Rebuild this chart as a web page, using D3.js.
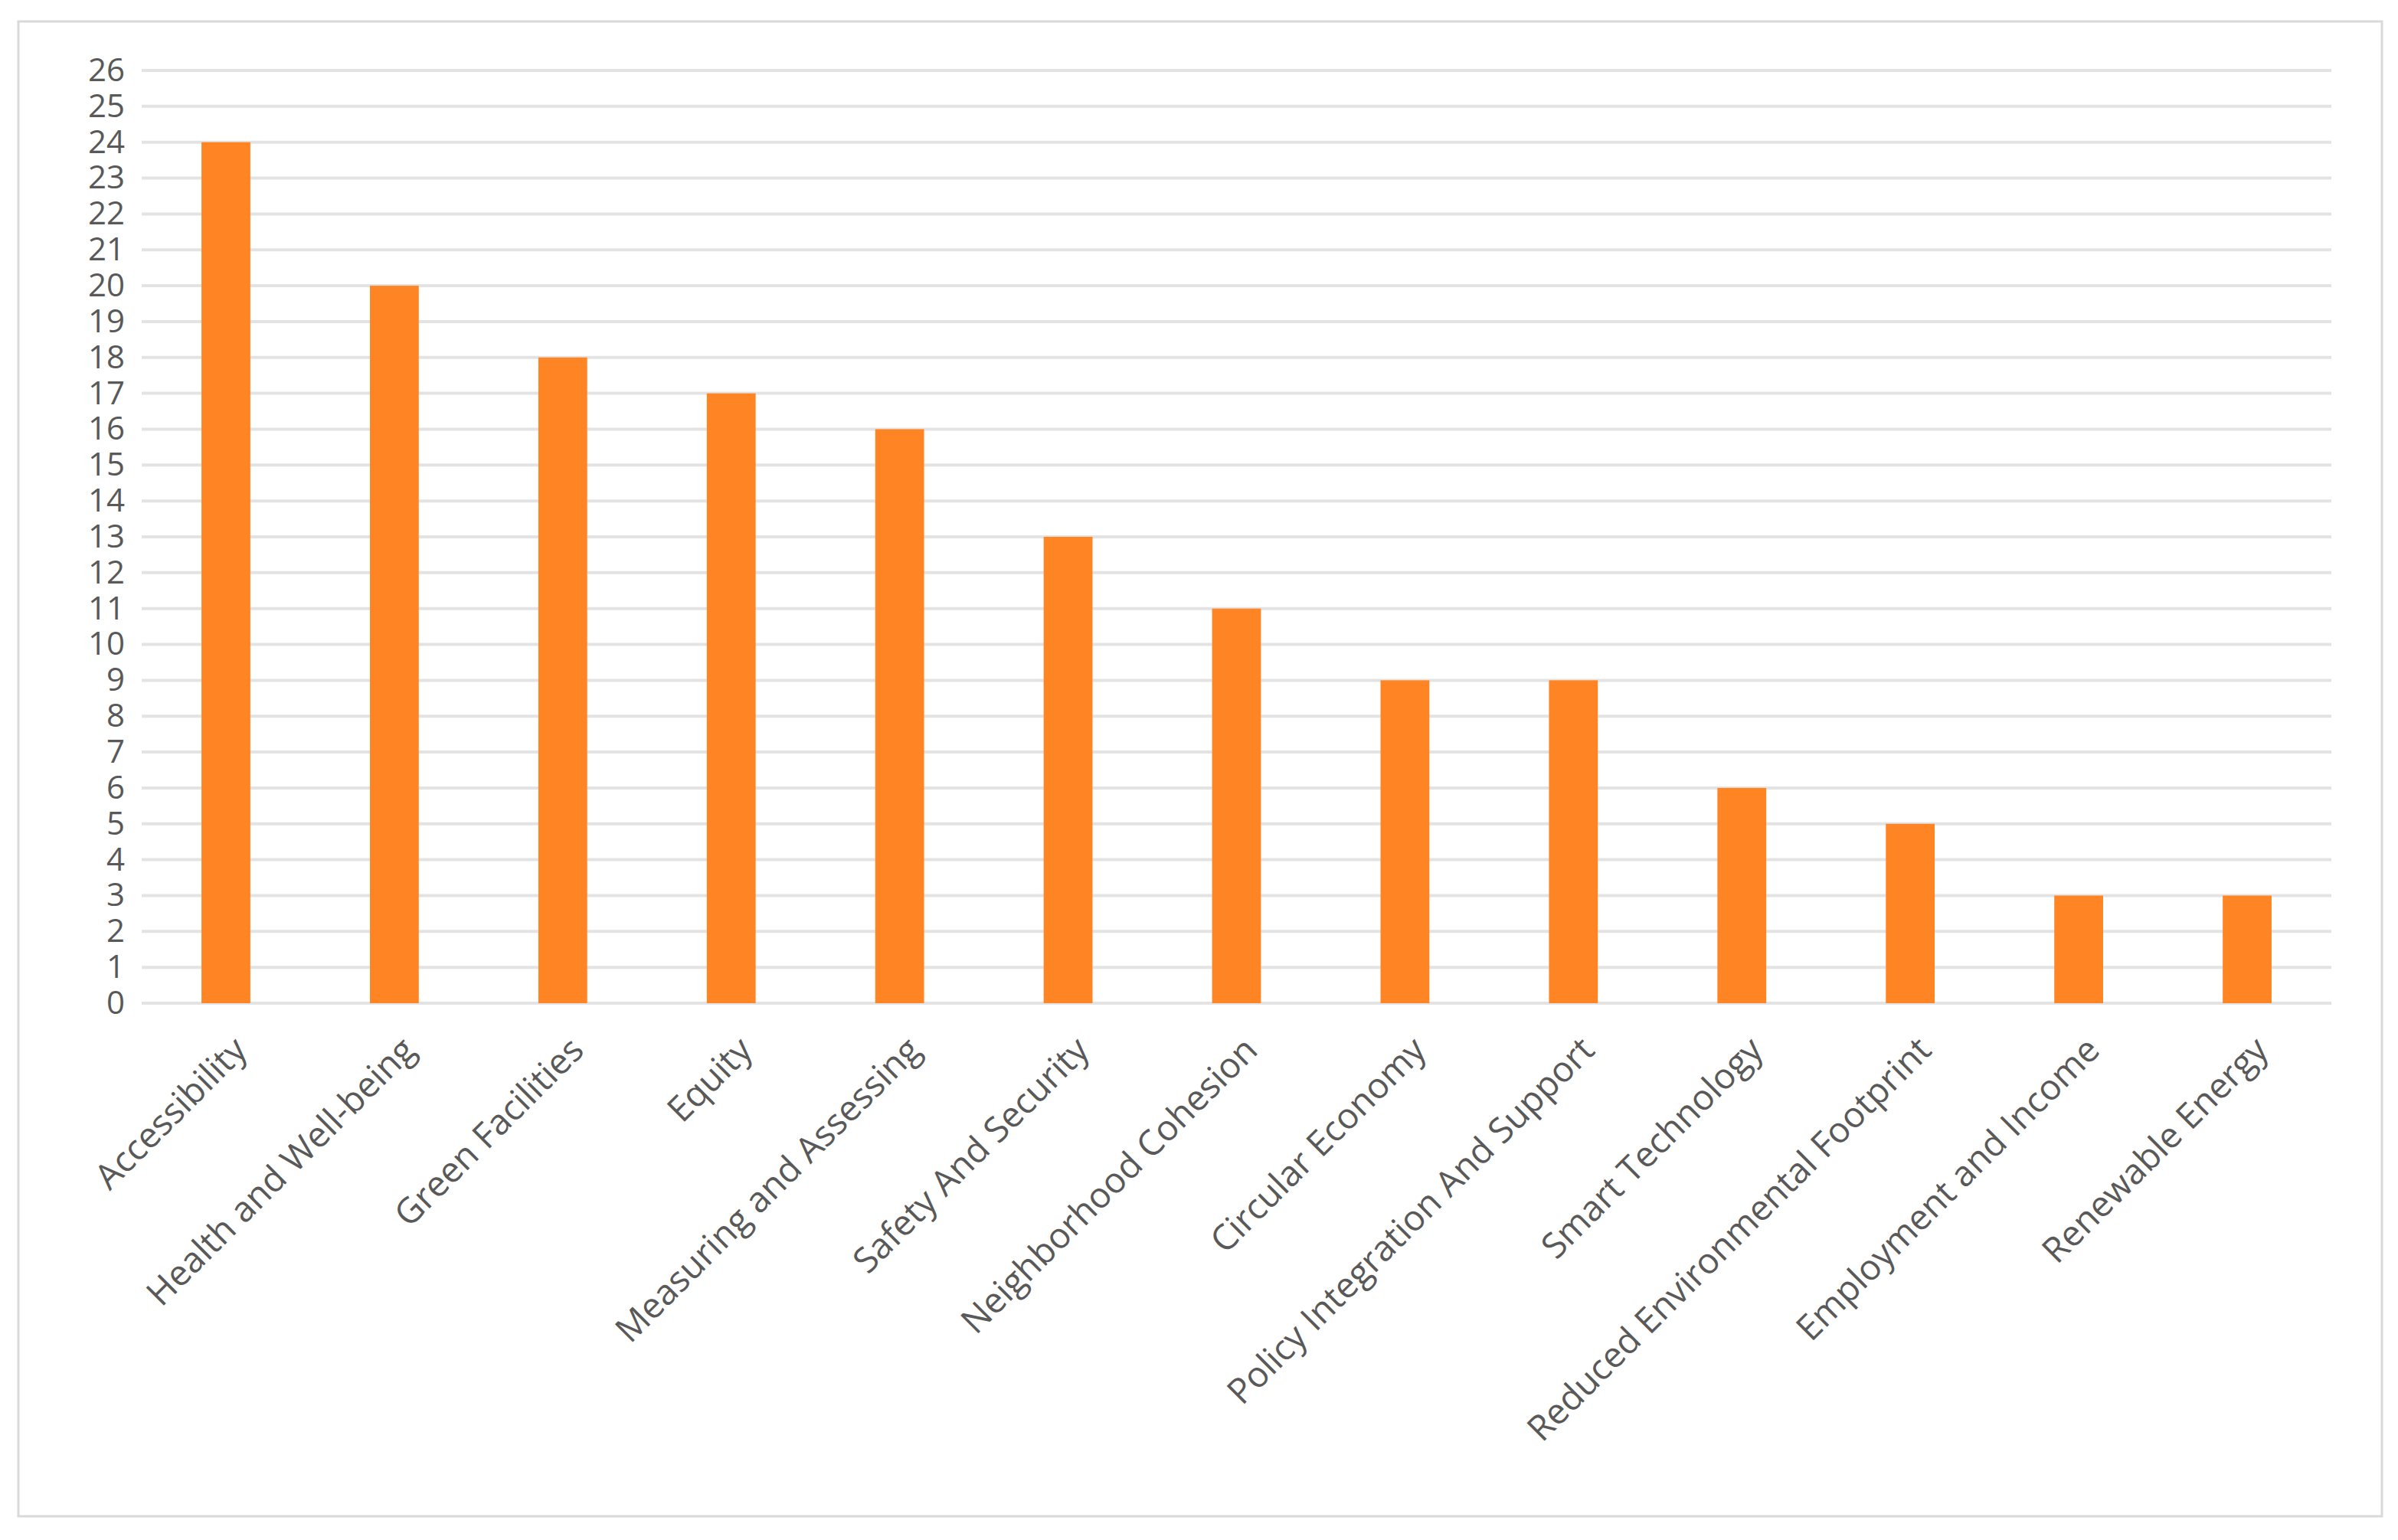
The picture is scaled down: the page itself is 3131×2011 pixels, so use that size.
<!DOCTYPE html>
<html>
<head>
<meta charset="utf-8">
<script src="https://cdn.jsdelivr.net/npm/d3@7"></script>
<style>
  body { margin: 0; background: #fff; }
  text { font-family: "Open Sans", sans-serif; fill: #595959; }
</style>
</head>
<body>
<svg id="chart"></svg>
<script>
const categories = [
  "Accessibility", "Health and Well-being", "Green Facilities", "Equity",
  "Measuring and Assessing", "Safety And Security", "Neighborhood Cohesion",
  "Circular Economy", "Policy Integration And Support", "Smart Technology",
  "Reduced Environmental Footprint", "Employment and Income", "Renewable Energy"
];
const counts = [24, 20, 18, 17, 16, 13, 11, 9, 9, 6, 5, 3, 3];
const yTicks = d3.range(0, 27);

const width = 3131, height = 2011;
const margin = { top: 92, right: 87, bottom: 701, left: 185 };
const chartWidth = width - margin.left - margin.right;
const chartHeight = height - margin.top - margin.bottom;

const svg = d3.select("#chart").attr("width", width).attr("height", height);

// outer frame
svg.append("rect")
  .attr("x", 24).attr("y", 28).attr("width", 3086).attr("height", 1952)
  .attr("fill", "none").attr("stroke", "#d9d9d9").attr("stroke-width", 3);

const container = svg.append("g")
  .attr("transform", `translate(${margin.left},${margin.top})`);

const x = d3.scaleBand()
  .domain(categories)
  .range([0, chartWidth])
  .paddingInner(0.71).paddingOuter(0.355);

const y = d3.scaleLinear().domain([0, 26]).range([chartHeight, 0]);

// gridlines
container.append("g")
  .selectAll("line")
  .data(yTicks)
  .enter().append("line")
  .attr("x1", 0).attr("x2", chartWidth)
  .attr("y1", d => y(d)).attr("y2", d => y(d))
  .attr("stroke", "#e3e3e3").attr("stroke-width", 4);

// Y Axis
const yAxis = container.append("g")
  .call(d3.axisLeft(y).tickValues(yTicks).tickSize(0).tickPadding(22));
yAxis.select(".domain").remove();
yAxis.selectAll("text").style("font-size", "42px").attr("fill", "#595959");

// Bars
container.selectAll(".bar")
  .data(categories)
  .enter().append("rect")
  .attr("class", "bar")
  .attr("x", d => x(d))
  .attr("y", (d, i) => y(counts[i]))
  .attr("width", x.bandwidth())
  .attr("height", (d, i) => chartHeight - y(counts[i]))
  .attr("fill", "#ff8424");

// X Axis
const xAxis = container.append("g")
  .attr("transform", `translate(0,${chartHeight})`)
  .call(d3.axisBottom(x).tickSize(0).tickPadding(0));
xAxis.select(".domain").remove();
xAxis.selectAll("text")
  .style("font-size", "46px")
  .attr("fill", "#595959")
  .attr("dy", 0)
  .attr("transform", "translate(30,64) rotate(-45)")
  .style("text-anchor", "end");
</script>
</body>
</html>
